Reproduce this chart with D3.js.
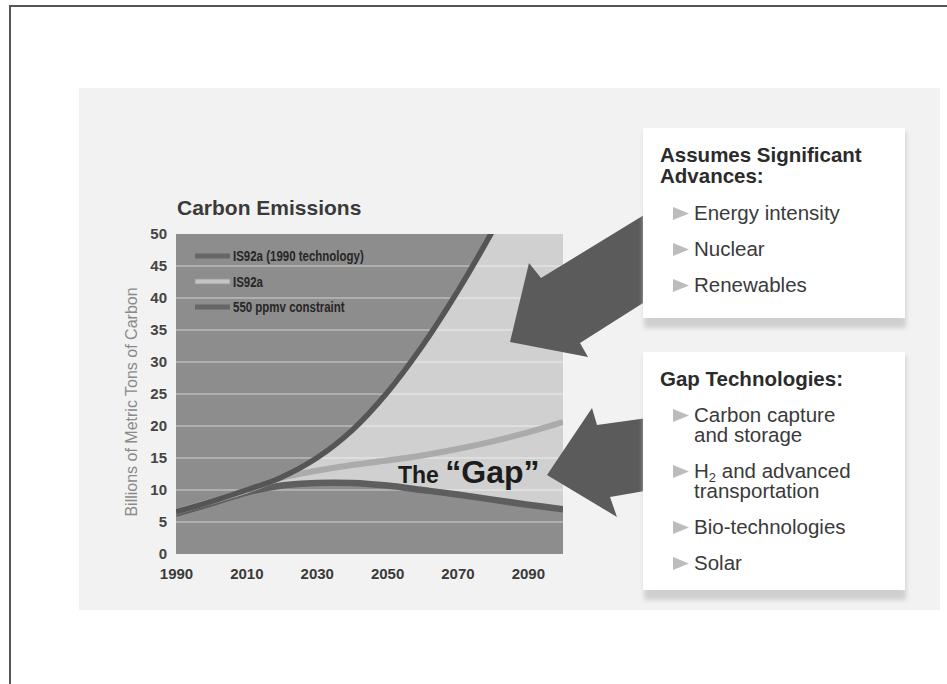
<!DOCTYPE html>
<html>
<head>
<meta charset="utf-8">
<script src="https://cdn.jsdelivr.net/npm/d3@7"></script>
<style>
  body { margin: 0; background: #fff; }
  svg { display: block; font-family: "Liberation Sans", Arial, Helvetica, sans-serif; }
</style>
</head>
<body>
<svg id="chart" width="947" height="684"></svg>
<script>
// values (billions of metric tons of carbon)
var years = [1990, 2000, 2010, 2020, 2030, 2040, 2050, 2060, 2070, 2080, 2090, 2100];
var is92a1990tech = [6.6, 8.2, 10, 12, 15, 19.3, 25.2, 32.5, 41, 50.5, 61, 72];
var is92a = [6.6, 8.2, 9.9, 11.9, 13.0, 13.9, 14.6, 15.4, 16.4, 17.6, 19.0, 20.6];
var ppmv550 = [6.3, 7.9, 9.6, 10.7, 11.1, 11.1, 10.7, 10.0, 9.3, 8.5, 7.7, 7.0];

var yTicks = [0, 5, 10, 15, 20, 25, 30, 35, 40, 45, 50];
var xTicks = [1990, 2010, 2030, 2050, 2070, 2090];
var legendLabels = ["IS92a (1990 technology)", "IS92a", "550 ppmv constraint"];

var advances = [["Energy intensity"], ["Nuclear"], ["Renewables"]];
var gapTech = [["Carbon capture", "and storage"], ["H2 and advanced", "transportation"], ["Bio-technologies"], ["Solar"]];

var svg = d3.select("#chart");

// frame of the page
svg.append("path")
    .attr("d", "M10,684 V6 H947")
    .attr("fill", "none")
    .attr("stroke", "#555")
    .attr("stroke-width", 2);

// photographed slide background
svg.append("rect")
    .attr("x", 79).attr("y", 88)
    .attr("width", 861).attr("height", 522)
    .attr("fill", "#f2f2f2");

var x = d3.scaleLinear().domain([1990, 2100]).range([176, 563]);
var y = d3.scaleLinear().domain([0, 50]).range([554, 234]);

var defs = svg.append("defs");
defs.append("clipPath").attr("id", "plotclip")
    .append("rect")
    .attr("x", x.range()[0]).attr("y", y.range()[1])
    .attr("width", x.range()[1] - x.range()[0])
    .attr("height", y.range()[0] - y.range()[1]);

var blur = defs.append("filter").attr("id", "shadow")
    .attr("x", "-10%").attr("y", "-10%").attr("width", "120%").attr("height", "130%");
blur.append("feGaussianBlur").attr("stdDeviation", 2.5);

// title
svg.append("text")
    .attr("x", 177).attr("y", 215)
    .attr("font-size", 21).attr("font-weight", "bold")
    .attr("fill", "#3a3a3a")
    .text("Carbon Emissions");

var plot = svg.append("g").attr("clip-path", "url(#plotclip)");

plot.append("rect")
    .attr("x", x.range()[0]).attr("y", y.range()[1])
    .attr("width", x.range()[1] - x.range()[0])
    .attr("height", y.range()[0] - y.range()[1])
    .attr("fill", "#8d8d8d");

var rows = years.map(function(yr, i) {
    return { year: yr, hi: is92a1990tech[i], mid: is92a[i], lo: ppmv550[i] };
});

var curve = d3.curveCatmullRom;

plot.append("path")
    .datum(rows)
    .attr("fill", "#d0d0d0")
    .attr("d", d3.area()
        .x(function(d) { return x(d.year); })
        .y0(function(d) { return y(d.lo); })
        .y1(function(d) { return y(d.hi); })
        .curve(curve));

// gridlines
plot.selectAll(".grid")
    .data(yTicks.filter(function(t) { return t > 0 && t < 50; }))
    .enter().append("line")
    .attr("x1", x.range()[0]).attr("x2", x.range()[1])
    .attr("y1", function(d) { return y(d); })
    .attr("y2", function(d) { return y(d); })
    .attr("stroke", "#fff")
    .attr("stroke-opacity", 0.4)
    .attr("stroke-width", 1.5);

function line(key) {
    return d3.line()
        .x(function(d) { return x(d.year); })
        .y(function(d) { return y(d[key]); })
        .curve(curve);
}

plot.append("path").datum(rows)
    .attr("fill", "none").attr("stroke", "#5e5e5e").attr("stroke-width", 6.5)
    .attr("d", line("lo"));
plot.append("path").datum(rows)
    .attr("fill", "none").attr("stroke", "#ababab").attr("stroke-width", 6)
    .attr("d", line("mid"));
plot.append("path").datum(rows)
    .attr("fill", "none").attr("stroke", "#555").attr("stroke-width", 5.5)
    .attr("d", line("hi"));

// legend (condensed bold labels)
var legendColors = ["#666", "#c4c4c4", "#666"];
var legend = svg.append("g");
legendLabels.forEach(function(lbl, i) {
    var ly = 256 + i * 25.5;
    legend.append("rect")
        .attr("x", 195).attr("y", ly - 2.5)
        .attr("width", 35).attr("height", 5)
        .attr("fill", legendColors[i])
        .attr("stroke", i === 1 ? "#9a9a9a" : "none")
        .attr("stroke-width", 0.8);
    legend.append("text")
        .attr("transform", "translate(233," + (ly + 5) + ") scale(0.82,1)")
        .attr("font-size", 14).attr("font-weight", "bold")
        .attr("fill", "#262626")
        .text(lbl);
});

// axes
var yAxis = svg.append("g")
    .attr("transform", "translate(167,0)")
    .call(d3.axisLeft(y).tickValues(yTicks).tickSize(0).tickPadding(0));
yAxis.select(".domain").remove();
yAxis.selectAll("text")
    .attr("font-size", 15).attr("font-weight", "bold")
    .attr("font-family", "Liberation Sans, Arial, sans-serif")
    .attr("fill", "#444");

var xAxis = svg.append("g")
    .attr("transform", "translate(0,568)")
    .call(d3.axisBottom(x).tickValues(xTicks).tickSize(0).tickPadding(0).tickFormat(d3.format("d")));
xAxis.select(".domain").remove();
xAxis.selectAll("text")
    .attr("font-size", 15).attr("font-weight", "bold")
    .attr("font-family", "Liberation Sans, Arial, sans-serif")
    .attr("fill", "#3a3a3a");

svg.append("text")
    .attr("transform", "translate(137,402) rotate(-90)")
    .attr("text-anchor", "middle")
    .attr("font-size", 16)
    .attr("fill", "#8a8a8a")
    .text("Billions of Metric Tons of Carbon");

// the "Gap" label
var gap = svg.append("text")
    .attr("x", 398).attr("y", 483)
    .attr("font-weight", "bold")
    .attr("fill", "#1c1c1c");
gap.append("tspan").attr("font-size", 23).text("The ");
gap.append("tspan").attr("font-size", 32).text("\u201CGap\u201D");

// arrows from the boxes into the chart
var arrows = [
    [[510, 342], [529, 263], [541, 278], [662, 204], [662, 291], [580, 343], [588, 357]],
    [[547, 475], [592, 408], [597, 425], [662, 416], [662, 488], [610, 497], [617, 517]]
];
svg.selectAll(".arrow")
    .data(arrows)
    .enter().append("polygon")
    .attr("points", function(d) { return d.join(" "); })
    .attr("fill", "#5b5b5b");

// text boxes
function drawBox(bx, by, bw, bh, heading, items, itemTop) {
    svg.append("rect")
        .attr("x", bx + 1).attr("y", by + 4)
        .attr("width", bw).attr("height", bh + 6)
        .attr("fill", "#cfcfcf")
        .attr("filter", "url(#shadow)");
    svg.append("rect")
        .attr("x", bx).attr("y", by)
        .attr("width", bw).attr("height", bh)
        .attr("fill", "#fff");
    heading.forEach(function(h, i) {
        svg.append("text")
            .attr("x", bx + 17).attr("y", by + 34 + i * 21)
            .attr("font-size", 20.5).attr("font-weight", "bold")
            .attr("fill", "#2b2b2b")
            .text(h);
    });
    var ty = by + itemTop;
    items.forEach(function(lines) {
        svg.append("polygon")
            .attr("points", [[bx + 30, ty - 13], [bx + 46, ty - 6.5], [bx + 30, ty]].join(" "))
            .attr("fill", "#bcbcbc");
        // one text element per bullet, wrapped lines as tspans
        var t = svg.append("text")
            .attr("x", bx + 51).attr("y", ty)
            .attr("font-size", 20.5)
            .attr("fill", "#3a3a3a");
        lines.forEach(function(l, j) {
            if (l.indexOf("H2") === 0) {
                t.append("tspan").attr("x", bx + 51).attr("y", ty + j * 20).text("H");
                t.append("tspan").attr("font-size", 13).attr("dy", 4).text("2");
                t.append("tspan").attr("dy", -4).text(l.slice(2));
            } else {
                t.append("tspan").attr("x", bx + 51).attr("y", ty + j * 20).text(l);
            }
        });
        ty += (lines.length - 1) * 20 + 36;
    });
}

drawBox(643, 128, 262, 190, ["Assumes Significant", "Advances:"], advances, 92);
drawBox(643, 352, 262, 238, ["Gap Technologies:"], gapTech, 70);
</script>
</body>
</html>
